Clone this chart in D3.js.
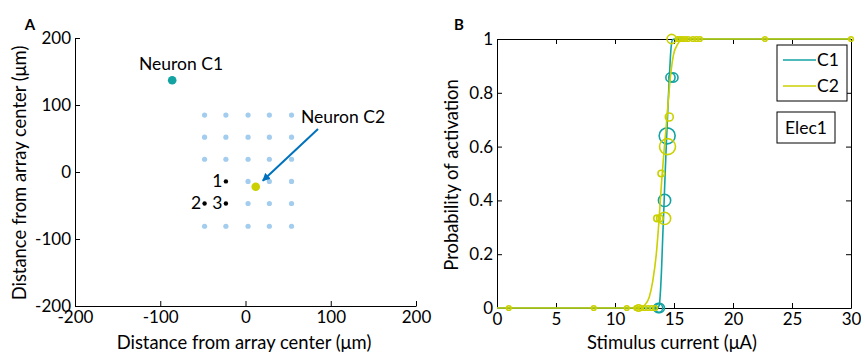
<!DOCTYPE html>
<html><head><meta charset="utf-8">
<script src="https://cdn.jsdelivr.net/npm/d3@7"></script>
<style>body{margin:0;background:#fff}svg{display:block;font-family:Lato,"Open Sans",sans-serif}</style>
</head><body><svg id="c" width="861" height="352"></svg>
<script>
// ---------- Panel A data ----------
const gridX = [-48, -23, 3, 28, 54];
const gridY = [85, 52, 19, -14, -47, -81];
const missingSites = [[-48, -14]];
const stimSites = [{x: -23, y: -14, label: "1"}, {x: -48, y: -47, label: "2"}, {x: -23, y: -47, label: "3"}];
const neurons = [{name: "Neuron C1", x: -86, y: 137}, {name: "Neuron C2", x: 12, y: -22}];
const axisTicksA = [-200, -100, 0, 100, 200];

// ---------- Panel B data ----------
const ticksBx = [0, 5, 10, 15, 20, 25, 30];
const ticksBy = [0, 0.2, 0.4, 0.6, 0.8, 1];
// fitted curves: [current, probability]
const curveC1 = [[0,0],[13.6,0],[13.75,0.01],[13.85,0.06],[13.95,0.15],[14.05,0.27],[14.15,0.38],[14.25,0.5],[14.38,0.64],[14.5,0.76],[14.62,0.87],[14.72,0.95],[14.85,0.995],[15.0,1],[30,1]];
const curveC2 = [[0,0],[12.0,0],[12.5,0.01],[12.9,0.04],[13.2,0.1],[13.5,0.2],[13.72,0.32],[13.95,0.47],[14.15,0.58],[14.35,0.68],[14.55,0.79],[14.75,0.88],[14.95,0.94],[15.3,0.98],[15.8,1],[30,1]];
// measured points: current, probability, number of trials (marker size)
const pointsC1 = [
  [13.4,0,1],[13.65,0,4],[13.8,0,4],
  [14.2,0.4,7],[14.42,0.64,12],[14.7,0.857,4],[14.95,0.857,4]
];
const pointsC2 = [
  [1.0,0,1],[8.2,0,1],[11.0,0,1],[11.8,0,1],[12.0,0,2],[12.2,0,1],[12.5,0,1],[12.8,0,1],[13.1,0,1],[13.4,0,1],
  [13.56,0.333,2],[13.8,0.333,2],[14.2,0.333,7],[13.92,0.5,2],[14.45,0.6,12],[14.6,0.71,3],
  [14.8,1,4],[15.3,1,1],[15.5,1,1],[15.7,1,1],[15.95,1,1],[16.2,1,1],[16.6,1,1],[16.9,1,1],[17.2,1,1],[22.7,1,1],[30,1,1]
];
const legendNames = ["C1", "C2"];
const colors = {C1: "#14a3a3", C2: "#cbd000"};

const svg = d3.select("#c");
const FS = 17;      // tick labels
const FT = 18.4;    // axis titles
const FL = 17.5;    // annotations

// ---------- Panel A ----------
const xA = d3.scaleLinear().domain([-200, 200]).range([75, 416]);
const yA = d3.scaleLinear().domain([-200, 200]).range([306, 38]);
const gA = svg.append("g");
gA.append("g").attr("transform", "translate(0,306)")
  .call(d3.axisBottom(xA).tickValues(axisTicksA).tickSizeInner(-5).tickSizeOuter(0).tickPadding(5).tickFormat(d => String(d)))
  .call(g => g.selectAll("text").attr("font-size", FS).attr("font-family", "Lato").attr("fill", "#000"));
gA.append("g").attr("transform", "translate(75,0)")
  .call(d3.axisLeft(yA).tickValues(axisTicksA).tickSizeInner(-5).tickSizeOuter(0).tickPadding(4).tickFormat(d => String(d)))
  .call(g => g.selectAll("text").attr("font-size", FS).attr("font-family", "Lato").attr("fill", "#000"));
gA.selectAll(".domain, .tick line").attr("stroke", "#000");

const sites = [];
gridY.forEach(y => gridX.forEach(x => {
  if (missingSites.some(m => m[0] === x && m[1] === y)) return;
  if (stimSites.some(s => s.x === x && s.y === y)) return;
  sites.push({x, y});
}));
gA.selectAll("circle.site").data(sites).join("circle").attr("class", "site")
  .attr("cx", d => xA(d.x)).attr("cy", d => yA(d.y)).attr("r", 2.6).attr("fill", "#a3cdee");
gA.selectAll("circle.stim").data(stimSites).join("circle").attr("class", "stim")
  .attr("cx", d => xA(d.x)).attr("cy", d => yA(d.y)).attr("r", 2.2).attr("fill", "#000");
gA.selectAll("text.stim").data(stimSites).join("text").attr("class", "stim")
  .attr("x", d => xA(d.x) - 3.5).attr("y", d => yA(d.y) + 6).attr("text-anchor", "end")
  .attr("font-size", FL).text(d => d.label);

svg.append("defs").append("marker").attr("id", "ah").attr("viewBox", "0 0 10 10")
  .attr("refX", 9).attr("refY", 5).attr("markerWidth", 4).attr("markerHeight", 4).attr("orient", "auto")
  .append("path").attr("d", "M0,0L10,5L0,10z").attr("fill", "#0072bd");
const c2 = neurons[1];
gA.append("line").attr("x1", 318).attr("y1", 129)
  .attr("x2", xA(c2.x) + 7).attr("y2", yA(c2.y) - 6)
  .attr("stroke", "#0072bd").attr("stroke-width", 2).attr("marker-end", "url(#ah)");
gA.selectAll("circle.neuron").data(neurons).join("circle").attr("class", "neuron")
  .attr("cx", d => xA(d.x)).attr("cy", d => yA(d.y)).attr("r", 4.3)
  .attr("fill", (d, i) => i === 0 ? colors.C1 : colors.C2);
gA.append("text").attr("x", 181).attr("y", 70).attr("text-anchor", "middle").attr("font-size", FL).text(neurons[0].name);
gA.append("text").attr("x", 343).attr("y", 123).attr("text-anchor", "middle").attr("font-size", FL).text(neurons[1].name);
gA.append("text").attr("x", 244).attr("y", 349).attr("text-anchor", "middle").attr("font-size", FT).text("Distance from array center (μm)");
gA.append("text").attr("transform", "translate(26,173) rotate(-90)").attr("text-anchor", "middle").attr("font-size", FT).text("Distance from array center (μm)");
gA.append("text").attr("x", 30).attr("y", 30).attr("text-anchor", "middle").attr("font-size", 15).attr("font-weight", "bold").text("A");

// ---------- Panel B ----------
const xB = d3.scaleLinear().domain([0, 30]).range([497, 851]);
const yB = d3.scaleLinear().domain([0, 1]).range([308, 39]);
const gB = svg.append("g");
gB.append("g").attr("transform", "translate(0,308)")
  .call(d3.axisBottom(xB).tickValues(ticksBx).tickSizeInner(-5).tickSizeOuter(0).tickPadding(5).tickFormat(d3.format("d")));
gB.append("g").attr("transform", "translate(0,39)")
  .call(d3.axisTop(xB).tickValues(ticksBx).tickSizeInner(-5).tickSizeOuter(0).tickFormat(""));
gB.append("g").attr("transform", "translate(497,0)")
  .call(d3.axisLeft(yB).tickValues(ticksBy).tickSizeInner(-5).tickSizeOuter(0).tickPadding(4).tickFormat(d => d === 0 || d === 1 ? d3.format("d")(d) : d3.format(".1f")(d)));
gB.append("g").attr("transform", "translate(851,0)")
  .call(d3.axisRight(yB).tickValues(ticksBy).tickSizeInner(-5).tickSizeOuter(0).tickFormat(""));
gB.selectAll("text").attr("font-size", FS).attr("font-family", "Lato").attr("fill", "#000");
gB.selectAll(".domain, .tick line").attr("stroke", "#000");

const rS = d3.scaleSqrt().domain([0, 12]).range([0, 8]);
const line = d3.line().x(d => xB(d[0])).y(d => yB(d[1])).curve(d3.curveMonotoneX);
[["C1", curveC1, pointsC1], ["C2", curveC2, pointsC2]].forEach(([k, cv, pts]) => {
  gB.append("path").attr("d", line(cv)).attr("fill", "none").attr("stroke", colors[k]).attr("stroke-width", 1.6);
  gB.selectAll("circle.p" + k).data(pts).join("circle").attr("class", "p" + k)
    .attr("cx", d => xB(d[0])).attr("cy", d => yB(d[1])).attr("r", d => Math.max(rS(d[2]), 1.8))
    .attr("fill", "none").attr("stroke", colors[k]).attr("stroke-width", 1.6);
});

// legend
const lg = gB.append("g");
lg.append("rect").attr("x", 777).attr("y", 45).attr("width", 70).attr("height", 56).attr("fill", "#fff").attr("stroke", "#000").attr("stroke-width", 1);
legendNames.forEach((n, i) => {
  const yy = 60 + i * 26;
  lg.append("line").attr("x1", 783).attr("x2", 816).attr("y1", yy).attr("y2", yy).attr("stroke", colors[n]).attr("stroke-width", 1.6);
  lg.append("text").attr("x", 817).attr("y", yy + 6).attr("font-size", FL).text(n);
});
gB.append("rect").attr("x", 777).attr("y", 112).attr("width", 58).attr("height", 31).attr("fill", "#fff").attr("stroke", "#000").attr("stroke-width", 1);
gB.append("text").attr("x", 806).attr("y", 134).attr("text-anchor", "middle").attr("font-size", FL).text("Elec1");

gB.append("text").attr("x", 672).attr("y", 349).attr("text-anchor", "middle").attr("font-size", FT).text("Stimulus current (μA)");
gB.append("text").attr("transform", "translate(458,175) rotate(-90)").attr("text-anchor", "middle").attr("font-size", FT).text("Probability of activation");
gB.append("text").attr("x", 459).attr("y", 30).attr("text-anchor", "middle").attr("font-size", 15).attr("font-weight", "bold").text("B");
</script></body></html>
